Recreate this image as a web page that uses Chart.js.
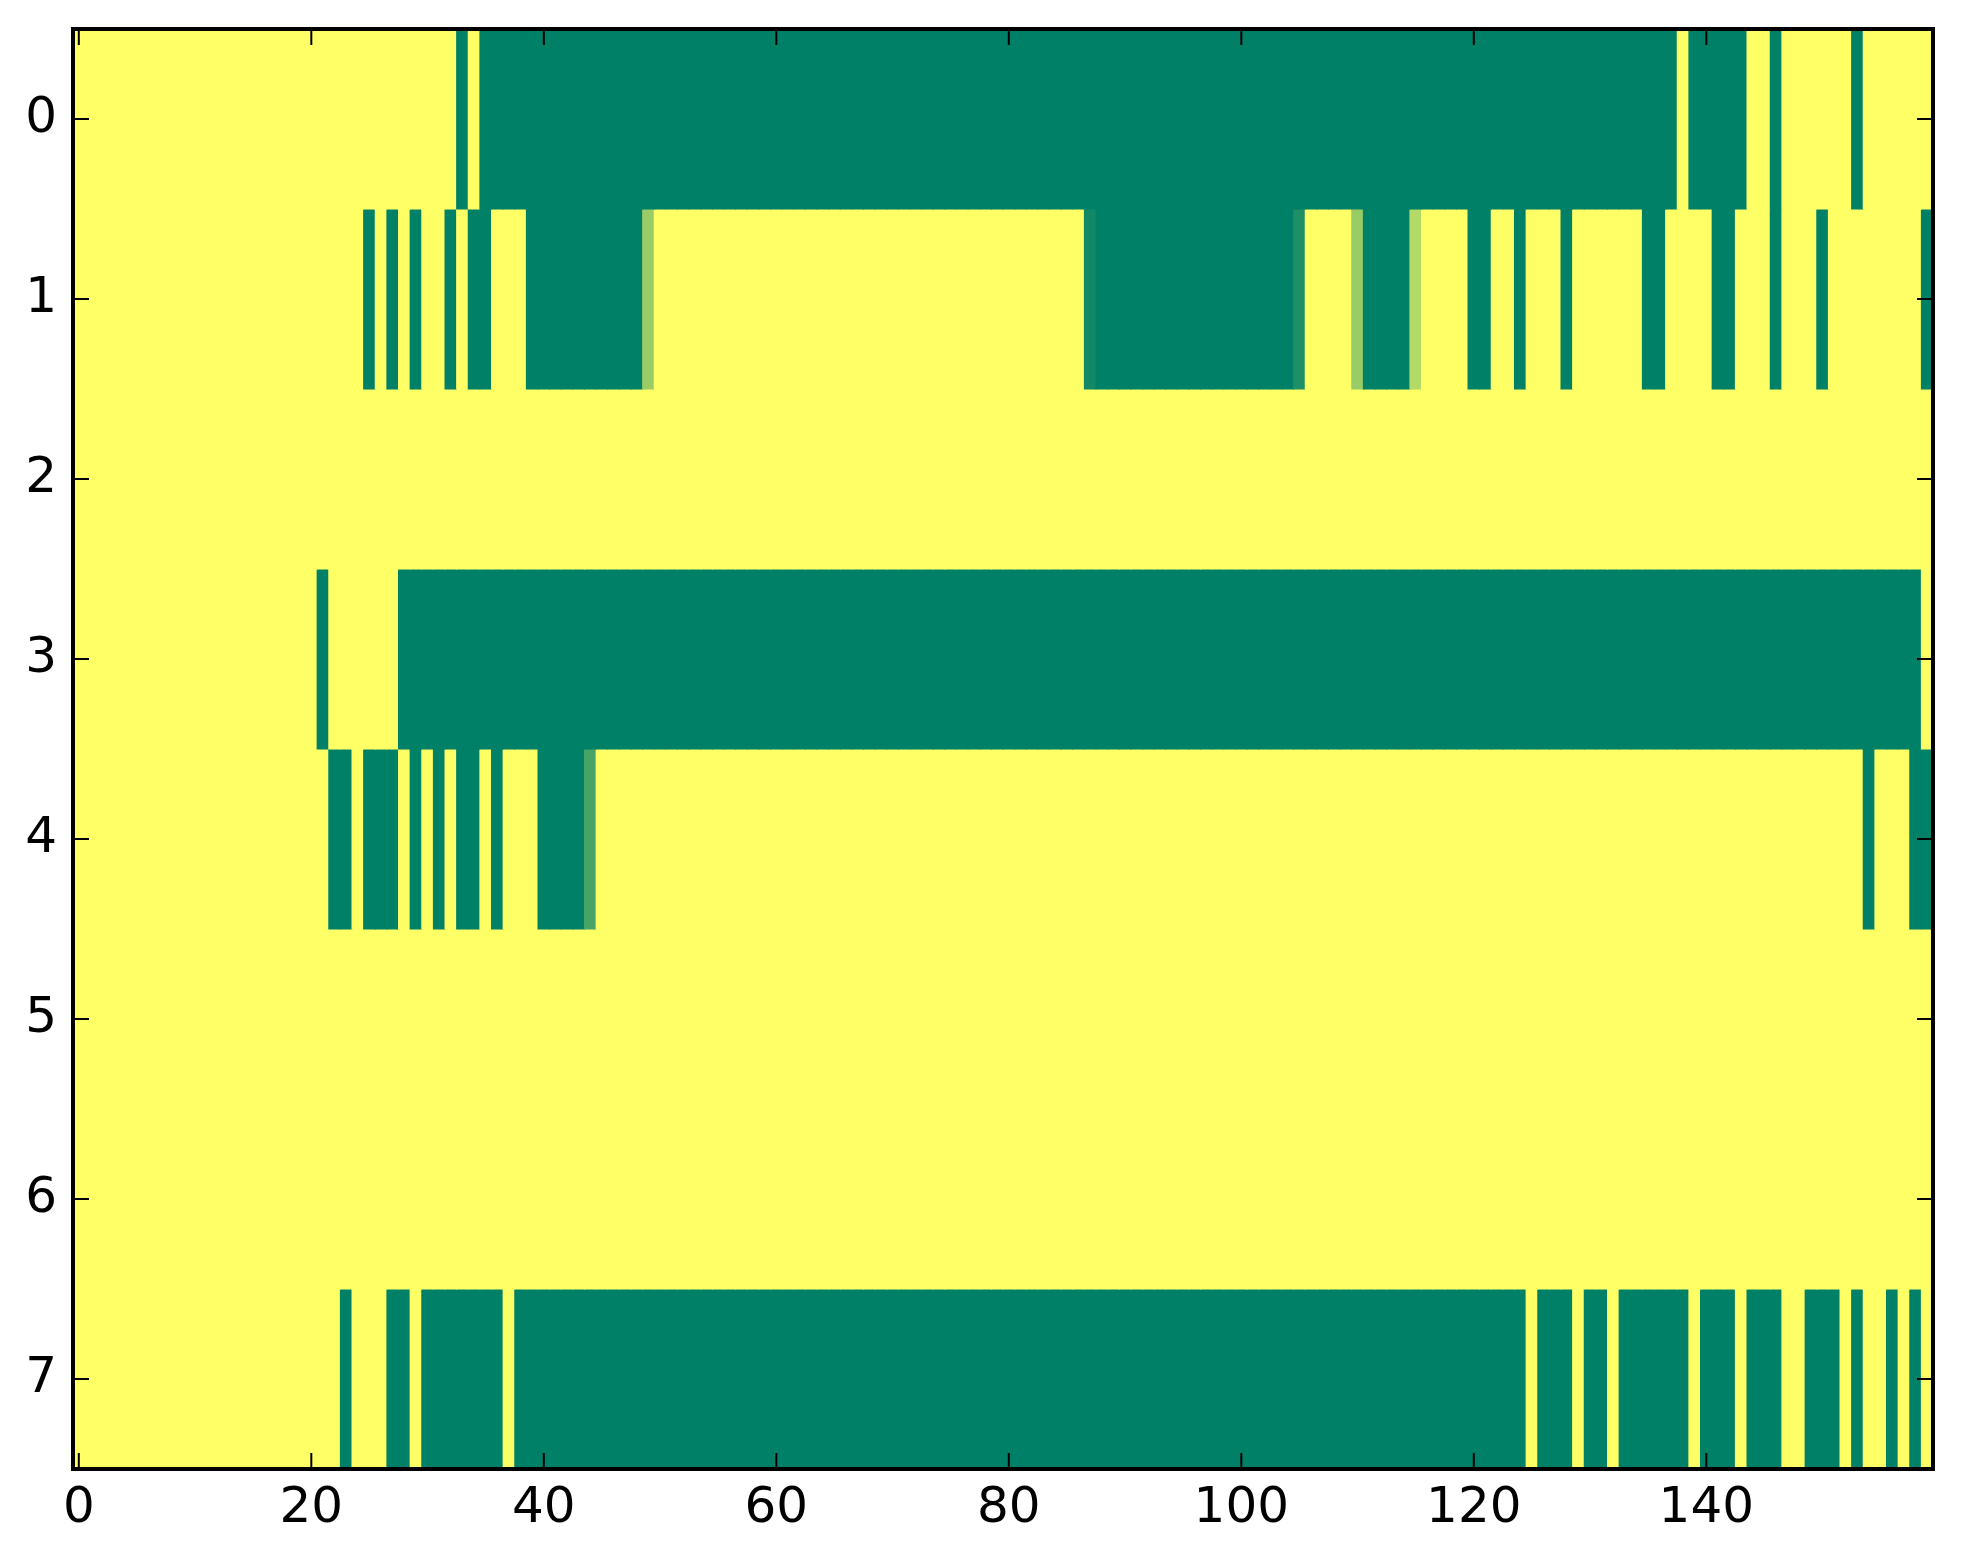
<!DOCTYPE html>
<html>
<head>
<meta charset="utf-8">
<script src="https://cdn.jsdelivr.net/npm/chart.js@4.4.0/dist/chart.umd.min.js"></script>
<style>
  html, body { margin: 0; padding: 0; background: #fff; }
  #wrap { width: 1963px; height: 1564px; }
</style>
</head>
<body>
<div id="wrap"><canvas id="js--heatmap"></canvas></div>
<script>
const rowLabels = [0, 1, 2, 3, 4, 5, 6, 7];
const xTickLabels = [0, 20, 40, 60, 80, 100, 120, 140];

// one value per column (0..159), 0 = green, 1 = yellow
const row0 = [
  1,1,1,1,1,1,1,1,1,1,1,1,1,1,1,1,1,1,1,1,
  1,1,1,1,1,1,1,1,1,1,1,1,1,0,1,0,0,0,0,0,
  0,0,0,0,0,0,0,0,0,0,0,0,0,0,0,0,0,0,0,0,
  0,0,0,0,0,0,0,0,0,0,0,0,0,0,0,0,0,0,0,0,
  0,0,0,0,0,0,0,0,0,0,0,0,0,0,0,0,0,0,0,0,
  0,0,0,0,0,0,0,0,0,0,0,0,0,0,0,0,0,0,0,0,
  0,0,0,0,0,0,0,0,0,0,0,0,0,0,0,0,0,0,1,0,
  0,0,0,0,1,1,0,1,1,1,1,1,1,0,1,1,1,1,1,1
];
const row1 = [
  1,1,1,1,1,1,1,1,1,1,1,1,1,1,1,1,1,1,1,1,
  1,1,1,1,1,0,1,0,1,0,1,1,0,1,0,0,1,1,1,0,
  0,0,0,0,0,0,0,0,0,0.6,1,1,1,1,1,1,1,1,1,1,
  1,1,1,1,1,1,1,1,1,1,1,1,1,1,1,1,1,1,1,1,
  1,1,1,1,1,1,1,0.07,0,0,0,0,0,0,0,0,0,0,0,0,
  0,0,0,0,0,0.12,1,1,1,1,0.6,0,0,0,0,0.7,1,1,1,1,
  0,0,1,1,0,1,1,1,0,1,1,1,1,1,1,0,0,1,1,1,
  1,0,0,1,1,1,0,1,1,1,0,1,1,1,1,1,1,1,1,0
];
const row2 = [
  1,1,1,1,1,1,1,1,1,1,1,1,1,1,1,1,1,1,1,1,
  1,1,1,1,1,1,1,1,1,1,1,1,1,1,1,1,1,1,1,1,
  1,1,1,1,1,1,1,1,1,1,1,1,1,1,1,1,1,1,1,1,
  1,1,1,1,1,1,1,1,1,1,1,1,1,1,1,1,1,1,1,1,
  1,1,1,1,1,1,1,1,1,1,1,1,1,1,1,1,1,1,1,1,
  1,1,1,1,1,1,1,1,1,1,1,1,1,1,1,1,1,1,1,1,
  1,1,1,1,1,1,1,1,1,1,1,1,1,1,1,1,1,1,1,1,
  1,1,1,1,1,1,1,1,1,1,1,1,1,1,1,1,1,1,1,1
];
const row3 = [
  1,1,1,1,1,1,1,1,1,1,1,1,1,1,1,1,1,1,1,1,
  1,0,1,1,1,1,1,1,0,0,0,0,0,0,0,0,0,0,0,0,
  0,0,0,0,0,0,0,0,0,0,0,0,0,0,0,0,0,0,0,0,
  0,0,0,0,0,0,0,0,0,0,0,0,0,0,0,0,0,0,0,0,
  0,0,0,0,0,0,0,0,0,0,0,0,0,0,0,0,0,0,0,0,
  0,0,0,0,0,0,0,0,0,0,0,0,0,0,0,0,0,0,0,0,
  0,0,0,0,0,0,0,0,0,0,0,0,0,0,0,0,0,0,0,0,
  0,0,0,0,0,0,0,0,0,0,0,0,0,0,0,0,0,0,0,1
];
const row4 = [
  1,1,1,1,1,1,1,1,1,1,1,1,1,1,1,1,1,1,1,1,
  1,1,0,0,1,0,0,0,1,0,1,0,1,0,0,1,0,1,1,1,
  0,0,0,0,0.28,1,1,1,1,1,1,1,1,1,1,1,1,1,1,1,
  1,1,1,1,1,1,1,1,1,1,1,1,1,1,1,1,1,1,1,1,
  1,1,1,1,1,1,1,1,1,1,1,1,1,1,1,1,1,1,1,1,
  1,1,1,1,1,1,1,1,1,1,1,1,1,1,1,1,1,1,1,1,
  1,1,1,1,1,1,1,1,1,1,1,1,1,1,1,1,1,1,1,1,
  1,1,1,1,1,1,1,1,1,1,1,1,1,1,0,1,1,1,0,0
];
const row5 = [
  1,1,1,1,1,1,1,1,1,1,1,1,1,1,1,1,1,1,1,1,
  1,1,1,1,1,1,1,1,1,1,1,1,1,1,1,1,1,1,1,1,
  1,1,1,1,1,1,1,1,1,1,1,1,1,1,1,1,1,1,1,1,
  1,1,1,1,1,1,1,1,1,1,1,1,1,1,1,1,1,1,1,1,
  1,1,1,1,1,1,1,1,1,1,1,1,1,1,1,1,1,1,1,1,
  1,1,1,1,1,1,1,1,1,1,1,1,1,1,1,1,1,1,1,1,
  1,1,1,1,1,1,1,1,1,1,1,1,1,1,1,1,1,1,1,1,
  1,1,1,1,1,1,1,1,1,1,1,1,1,1,1,1,1,1,1,1
];
const row6 = [
  1,1,1,1,1,1,1,1,1,1,1,1,1,1,1,1,1,1,1,1,
  1,1,1,1,1,1,1,1,1,1,1,1,1,1,1,1,1,1,1,1,
  1,1,1,1,1,1,1,1,1,1,1,1,1,1,1,1,1,1,1,1,
  1,1,1,1,1,1,1,1,1,1,1,1,1,1,1,1,1,1,1,1,
  1,1,1,1,1,1,1,1,1,1,1,1,1,1,1,1,1,1,1,1,
  1,1,1,1,1,1,1,1,1,1,1,1,1,1,1,1,1,1,1,1,
  1,1,1,1,1,1,1,1,1,1,1,1,1,1,1,1,1,1,1,1,
  1,1,1,1,1,1,1,1,1,1,1,1,1,1,1,1,1,1,1,1
];
const row7 = [
  1,1,1,1,1,1,1,1,1,1,1,1,1,1,1,1,1,1,1,1,
  1,1,1,0,1,1,1,0,0,1,0,0,0,0,0,0,0,1,0,0,
  0,0,0,0,0,0,0,0,0,0,0,0,0,0,0,0,0,0,0,0,
  0,0,0,0,0,0,0,0,0,0,0,0,0,0,0,0,0,0,0,0,
  0,0,0,0,0,0,0,0,0,0,0,0,0,0,0,0,0,0,0,0,
  0,0,0,0,0,0,0,0,0,0,0,0,0,0,0,0,0,0,0,0,
  0,0,0,0,0,1,0,0,0,1,0,0,1,0,0,0,0,0,0,1,
  0,0,0,1,0,0,0,1,1,0,0,0,1,0,1,1,0,1,0,1
];
const rows = [row0, row1, row2, row3, row4, row5, row6, row7];

// matplotlib "summer" colormap
function summer(v) {
  return 'rgb(' + Math.round(v * 255) + ',' + Math.round((0.5 + 0.5 * v) * 255) + ',102)';
}

const datasets = rows.map((vals, r) => ({
  label: 'row ' + rowLabels[r],
  data: vals.map((v, c) => ({ x: c, y: [rowLabels[r] - 0.5, rowLabels[r] + 0.5] })),
  backgroundColor: vals.map(summer),
  borderWidth: 0,
  grouped: false,
  barPercentage: 1,
  categoryPercentage: 1,
  inflateAmount: 0.5
}));

const tickFont = { family: 'DejaVu Sans', size: 50 };

// classic matplotlib frame with inward ticks on all four sides
const frame = {
  id: 'frame',
  afterDatasetsDraw(chart) {
    const { ctx, chartArea: a, scales } = chart;
    const tl = 16;
    ctx.save();
    ctx.strokeStyle = '#000';
    ctx.lineWidth = 2;
    ctx.beginPath();
    scales.x.ticks.forEach(t => {
      const px = scales.x.getPixelForValue(t.value);
      ctx.moveTo(px, a.bottom); ctx.lineTo(px, a.bottom - tl);
      ctx.moveTo(px, a.top); ctx.lineTo(px, a.top + tl);
    });
    scales.y.ticks.forEach(t => {
      const py = scales.y.getPixelForValue(t.value);
      ctx.moveTo(a.left, py); ctx.lineTo(a.left + tl, py);
      ctx.moveTo(a.right, py); ctx.lineTo(a.right - tl, py);
    });
    ctx.stroke();
    ctx.lineWidth = 4;
    ctx.strokeRect(a.left, a.top, a.right - a.left, a.bottom - a.top);
    ctx.restore();
  }
};

new Chart(document.getElementById('js--heatmap'), {
  type: 'bar',
  data: { datasets: datasets },
  plugins: [frame],
  options: {
    responsive: true,
    maintainAspectRatio: false,
    animation: false,
    events: [],
    layout: { padding: { top: 29, right: 30, left: 0, bottom: 0 } },
    plugins: { legend: { display: false }, tooltip: { enabled: false } },
    scales: {
      x: {
        type: 'linear',
        offset: false,
        min: -0.5,
        max: 159.5,
        bounds: 'data',
        grid: { display: false, drawTicks: false, offset: false },
        border: { display: false },
        ticks: { font: tickFont, color: '#000', padding: 10, maxRotation: 0 },
        afterBuildTicks: s => { s.ticks = xTickLabels.map(v => ({ value: v })); },
        afterFit: s => { s.height = 95; s.paddingLeft = 0; s.paddingRight = 0; }
      },
      y: {
        type: 'linear',
        reverse: true,
        offset: false,
        min: -0.5,
        max: 7.5,
        bounds: 'data',
        grid: { display: false, drawTicks: false },
        border: { display: false },
        ticks: { font: tickFont, color: '#000', padding: 16 },
        afterBuildTicks: s => { s.ticks = rowLabels.map(v => ({ value: v })); },
        afterFit: s => { s.width = 73; s.paddingTop = 0; s.paddingBottom = 0; }
      }
    }
  }
});
</script>
</body>
</html>
